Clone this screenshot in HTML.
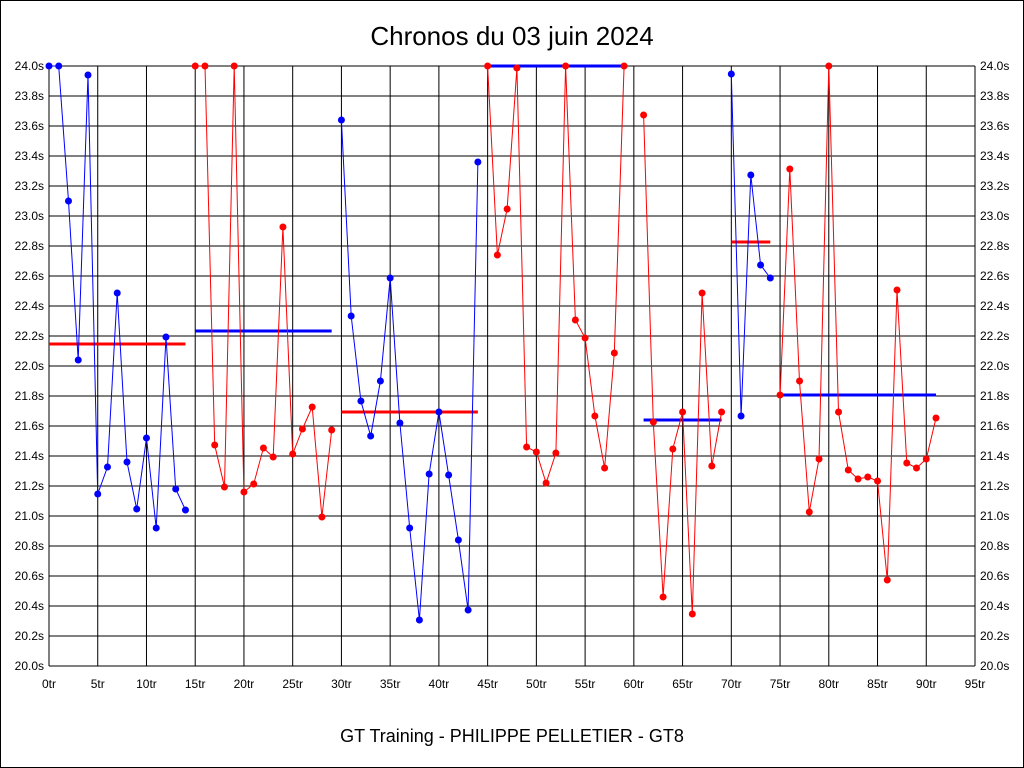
<!DOCTYPE html>
<html><head><meta charset="utf-8"><style>
html,body{margin:0;padding:0;background:#fff;}
svg{display:block;font-family:"Liberation Sans",sans-serif;}
</style></head><body>
<svg id="s" width="1024" height="768" viewBox="0 0 1024 768" xmlns="http://www.w3.org/2000/svg">
<rect x="0.5" y="0.5" width="1023" height="767" fill="#fff" stroke="#000"/>
<text x="512" y="45" font-size="26" text-anchor="middle">Chronos du 03 juin 2024</text>
<text x="512" y="742" font-size="18" text-anchor="middle">GT Training - PHILIPPE PELLETIER - GT8</text>
<g id="grid"></g>
<g id="data"></g>
</svg>
<script>
var NS="http://www.w3.org/2000/svg";
function el(p,t,a,txt){var e=document.createElementNS(NS,t);for(var k in a)e.setAttribute(k,a[k]);if(txt!==undefined)e.textContent=txt;p.appendChild(e);return e;}
var g=document.getElementById('grid'),d=document.getElementById('data');
var X0=49,X1=975,Y0=66,Y1=666;
function X(i){return X0+i*(X1-X0)/95;}
for(var k=0;k<=20;k++){var y=Y1-k*30;el(g,'line',{x1:X0,x2:X1,y1:y,y2:y,stroke:'#000','stroke-width':1});
 var v=(20+k*0.2).toFixed(1)+'s';el(g,'text',{x:44,y:y+4,'font-size':12,'text-anchor':'end'},v);el(g,'text',{x:980,y:y+4,'font-size':12},v);}
for(var k=0;k<=19;k++){var x=X(k*5);el(g,'line',{x1:x,x2:x,y1:Y0,y2:Y1,stroke:'#000','stroke-width':1});
 el(g,'text',{x:x,y:688,'font-size':12,'text-anchor':'middle'},(k*5)+'tr');}
var segs=[
['#00f',0,[66,66,201,360,75,494,467,293,462,509,438,528,337,489,510],'#f00',344],
['#f00',15,[66,66,445,487,66,492,484,448,457,227,454,429,407,517,430],'#00f',331],
['#00f',30,[120,316,401,436,381,278,423,528,620,474,412,475,540,610,162],'#f00',412],
['#f00',45,[66,255,209,68,447,452,483,453,66,320,338,416,468,353,66],'#00f',66],
['#f00',61,[115,422,597,449,412,614,293,466,412],'#00f',420],
['#00f',70,[74,416,175,265,278],'#f00',242],
['#f00',75,[395,169,381,512,459,66,412,470,479,477,481,580,290,463,468,459,418],'#00f',395]
];
segs.forEach(function(s){
 var c=s[0],st=s[1],ys=s[2],pts=[];
 ys.forEach(function(y,j){pts.push(X(st+j).toFixed(1)+','+y);});
 el(d,'line',{x1:X(st),x2:X(st+ys.length-1),y1:s[4],y2:s[4],stroke:s[3],'stroke-width':3});
 el(d,'polyline',{points:pts.join(' '),fill:'none',stroke:c,'stroke-width':1});
 ys.forEach(function(y,j){el(d,'circle',{cx:X(st+j),cy:y,r:3.5,fill:c});});
});
</script>
</body></html>
